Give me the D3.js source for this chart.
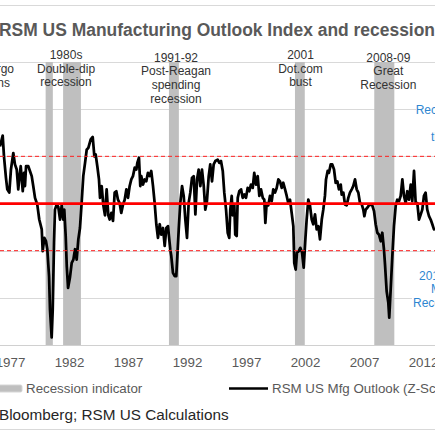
<!DOCTYPE html>
<html><head><meta charset="utf-8">
<script src="https://cdn.jsdelivr.net/npm/d3@7"></script>
<style>
body{margin:0;background:#fff;overflow:hidden}
svg{display:block}
text{font-family:"Liberation Sans",Arial,Helvetica,sans-serif}
</style>
</head><body>
<svg id="chart" width="435" height="435"></svg>
<script>
// ---- data ----
const titleText = "RSM US Manufacturing Outlook Index and recessions";
const sourceText = "Source: Bloomberg; RSM US Calculations";
const sourcePrefix = "Source: ";
const legendLabels = ["Recession indicator", "RSM US Mfg Outlook (Z-Score)"];

const years = [
1976.15,1976.38,1976.49,1976.66,1976.77,1976.94,1977.08,1977.28,1977.42,1977.57,1977.70,1977.79,1977.91,
1978.08,1978.19,1978.27,1978.36,1978.55,1978.69,1978.84,1978.97,1979.12,1979.31,1979.48,1979.69,1979.77,1979.91,
1980.05,1980.16,1980.31,1980.39,1980.53,1980.62,1980.73,1980.81,1980.96,1981.09,1981.24,1981.38,1981.52,1981.60,
1981.72,1981.81,1981.92,1982.08,1982.23,1982.37,1982.51,1982.65,1982.79,1982.93,1983.07,1983.21,1983.36,1983.50,
1983.64,1983.84,1984.01,1984.15,1984.26,1984.40,1984.54,1984.63,1984.77,1984.91,1985.05,1985.19,1985.33,
1985.45,1985.59,1985.73,1985.87,1986.01,1986.15,1986.29,1986.43,1986.58,1986.72,1986.86,1987.00,1987.14,1987.28,
1987.42,1987.57,1987.71,1987.79,1987.93,1988.04,1988.13,1988.27,1988.41,1988.55,1988.69,1988.84,1988.97,1989.12,
1989.26,1989.40,1989.54,1989.69,1989.82,1989.97,1990.11,1990.25,1990.39,1990.47,1990.58,1990.67,1990.81,1990.96,
1991.09,1991.18,1991.30,1991.43,1991.58,1991.72,1991.86,1992.00,1992.14,1992.28,1992.42,1992.57,1992.71,1992.85,
1992.99,1993.13,1993.27,1993.42,1993.55,1993.69,1993.84,1993.97,1994.12,1994.26,1994.40,
1994.60,1994.74,1994.88,1995.03,1995.16,1995.31,1995.45,1995.58,1995.67,1995.79,1995.87,1996.01,1996.09,1996.21,
1996.30,1996.43,1996.58,1996.72,1996.86,1997.00,1997.14,1997.28,1997.42,1997.57,1997.70,1997.85,1997.99,1998.13,
1998.27,1998.42,1998.55,1998.64,1998.75,1998.89,1999.03,1999.18,1999.31,1999.46,1999.60,1999.74,1999.88,2000.03,
2000.16,2000.31,2000.45,2000.58,2000.73,2000.87,2001.01,2001.09,2001.21,2001.32,2001.47,2001.60,2001.75,2001.89,
2002.03,2002.14,2002.28,2002.42,2002.57,2002.70,2002.85,2002.99,2003.13,2003.27,2003.42,2003.55,2003.69,
2003.78,2003.92,2004.03,2004.18,2004.31,2004.46,2004.60,2004.74,2004.88,2005.03,2005.11,2005.25,2005.39,2005.53,
2005.67,2005.81,2005.96,2006.09,2006.24,2006.38,2006.52,2006.66,2006.81,2006.94,2007.03,2007.14,2007.28,2007.42,
2007.57,2007.70,2007.85,2007.99,2008.13,2008.27,2008.42,2008.55,2008.69,2008.78,2008.92,2009.06,2009.14,2009.26,
2009.40,2009.54,2009.69,2009.82,2009.97,2010.11,2010.25,2010.39,2010.53,2010.67,2010.81,2010.96,2011.09,2011.24,
2011.38,2011.52,2011.66,2011.81,2011.94,2012.08,2012.22,2012.36,2012.51,2012.65,2012.79,2012.93,2013.02
];
const outlook = [
1.21,1.44,1.00,0.54,0.30,0.23,0.72,1.07,0.83,0.72,0.30,0.54,0.79,
0.26,0.65,0.37,0.79,0.79,0.69,0.58,0.37,0.12,-0.02,-0.34,-0.55,-1.01,-0.73,
-0.80,-0.97,-1.54,-2.25,-2.84,-2.25,-0.83,-0.13,-0.02,-0.07,-0.34,-0.04,-0.34,-0.13,
-0.69,-1.33,-1.79,-1.57,-1.26,-1.19,-0.97,-1.19,-0.76,-0.52,0.01,0.58,0.86,1.14,
1.18,1.36,1.41,1.00,1.04,0.79,0.51,0.12,0.37,-0.04,-0.25,0.30,-0.25,
-0.34,-0.20,-0.37,0.23,0.26,0.08,0.01,-0.20,-0.02,0.08,0.30,0.12,0.37,0.51,
0.58,0.76,0.72,0.86,0.97,0.37,0.58,0.40,0.51,0.47,0.65,0.58,0.69,0.37,
0.01,-0.44,-0.73,-0.44,-0.66,-0.52,-0.90,-0.52,-0.48,-0.69,-0.97,-1.12,-1.47,-1.54,
-1.54,-1.12,-0.55,0.01,0.37,0.16,-0.34,-0.73,0.01,0.23,0.54,0.58,-0.23,0.51,
0.72,0.37,0.72,0.37,-0.13,0.05,0.58,0.83,0.47,0.83,0.90,
0.93,0.86,0.90,0.69,0.23,-0.13,-0.62,-0.73,-0.13,0.16,-0.25,-0.04,-0.66,-0.69,
0.12,0.26,0.30,0.12,0.19,0.12,0.33,0.26,0.40,0.33,0.65,0.40,0.58,0.16,
0.30,0.12,0.08,-0.41,0.01,-0.04,0.16,0.05,0.30,0.23,0.33,0.51,0.47,0.33,
0.44,0.30,0.16,0.01,0.08,-0.20,-0.48,-1.26,-1.40,-1.04,-1.01,-0.94,-1.04,-1.36,
-0.76,-0.34,0.08,-0.04,-0.34,-0.44,-0.23,-0.55,-0.48,-0.76,-0.34,-0.13,0.16,
0.51,0.69,0.65,0.83,0.83,0.72,0.44,0.47,0.30,0.40,0.19,0.23,-0.02,-0.04,
0.12,0.23,0.30,0.37,0.51,0.30,0.23,0.01,-0.02,-0.13,-0.27,-0.13,-0.09,-0.04,
-0.02,-0.04,-0.16,-0.44,-0.62,-0.66,-0.80,-0.62,-0.97,-1.29,-1.86,-2.10,-2.42,-1.82,
-1.12,-0.48,-0.04,0.08,0.05,0.16,0.51,0.16,0.01,0.26,0.08,0.40,0.05,0.69,
0.01,0.01,-0.34,-0.23,-0.13,0.16,0.23,-0.13,-0.27,-0.34,-0.44,-0.55,-0.52
];
const recessionStart = [1980.02, 1981.50, 1990.47, 2001.15, 2007.87];
const recessionEnd   = [1980.63, 1983.01, 1991.31, 2001.98, 2009.57];
const yTicks = [-3, -2, -1, 0, 1, 2, 3];
const bandLevels = [-1, 1];
const zeroLevel = 0;
const xTickYears = [1977, 1982, 1987, 1992, 1997, 2002, 2007, 2012];
const xTickLabels = ["1977", "1982", "1987", "1992", "1997", "2002", "2007", "2012"];
const noteYears = [1974.57, 1981.75, 1991.07, 2001.62, 2009.06];
const noteLines = [
  ["1970s", "Oil embargo", "recessions"],
  ["1980s", "Double-dip", "recession"],
  ["1991-92", "Post-Reagan", "spending", "recession"],
  ["2001", "Dot.com", "bust"],
  ["2008-09", "Great", "Recession"]
];
const noteTop = [59.2, 59, 61.7, 59, 61.7];
const sideNoteYear = 2013.53;
const sideNotes = [
  ["Recovery", "in", "that"],
  ["2015-16", "Mfg", "Recession"]
];
const sideNoteTop = [114, 279.5];

// ---- scales ----
const svg = d3.select("#chart");
const x = d3.scaleLinear().domain([1982, 2012]).range([69, 423]);
const y = d3.scaleLinear().domain([-3, 3]).range([345, 62]);
const W = 435;

// frame lines
svg.append("line").attr("x1", 0).attr("x2", W).attr("y1", 5.5).attr("y2", 5.5)
  .attr("stroke", "#d9d9d9").attr("stroke-width", 1);
svg.append("line").attr("x1", 0).attr("x2", W).attr("y1", 429.5).attr("y2", 429.5)
  .attr("stroke", "#d9d9d9").attr("stroke-width", 1);

// title
svg.append("text").attr("x", -1).attr("y", 35.5)
  .attr("font-size", 17.45).attr("font-weight", "bold").attr("fill", "#595959")
  .text(titleText);

// gridlines
svg.append("g").selectAll("line").data(yTicks).join("line")
  .attr("x1", 0).attr("x2", W)
  .attr("y1", d => Math.round(y(d)) + 0.5).attr("y2", d => Math.round(y(d)) + 0.5)
  .attr("stroke", "#d9d9d9").attr("stroke-width", 1);

// recession bars
const recs = recessionStart.map((s, i) => ({s, e: recessionEnd[i]}));
svg.append("g").selectAll("rect").data(recs).join("rect")
  .attr("x", d => x(d.s)).attr("width", d => x(d.e) - x(d.s))
  .attr("y", y(3)).attr("height", y(-3) - y(3))
  .attr("fill", "#bfbfbf");

// x axis
const xAxis = d3.axisBottom(x).tickValues(xTickYears)
  .tickFormat((d, i) => xTickLabels[i]).tickSize(0).tickPadding(0);
const gx = svg.append("g").attr("transform", `translate(0,${y(-3)})`).call(xAxis);
gx.select(".domain").remove();
gx.selectAll("text").attr("dy", null).attr("y", 21.5)
  .attr("font-size", 13.33).attr("fill", "#595959")
  .attr("font-family", '"Liberation Sans",Arial,sans-serif');
svg.append("line").attr("x1", 0).attr("x2", W)
  .attr("y1", Math.round(y(-3)) + 0.5).attr("y2", Math.round(y(-3)) + 0.5)
  .attr("stroke", "#d0d0d0").attr("stroke-width", 1);

// series line
const pts = years.map((t, i) => [t, outlook[i]]);
svg.append("path").datum(pts)
  .attr("fill", "none").attr("stroke", "#000").attr("stroke-width", 2.75)
  .attr("stroke-linejoin", "round")
  .attr("d", d3.line().x(d => x(d[0])).y(d => y(d[1])));

// red reference lines
svg.append("g").selectAll("line").data(bandLevels).join("line")
  .attr("x1", 0).attr("x2", W).attr("y1", d => y(d)).attr("y2", d => y(d))
  .attr("stroke", "#ff2020").attr("stroke-width", 1).attr("stroke-dasharray", "4,3");
svg.append("line").attr("x1", 0).attr("x2", W)
  .attr("y1", y(zeroLevel)).attr("y2", y(zeroLevel))
  .attr("stroke", "#ff0000").attr("stroke-width", 2.75);

// recession annotations
const lh = 13.7;
noteLines.forEach((lines, i) => {
  const t = svg.append("text").attr("text-anchor", "middle")
    .attr("font-size", 12).attr("fill", "#333");
  lines.forEach((l, j) => {
    t.append("tspan").attr("x", x(noteYears[i])).attr("y", noteTop[i] + j * lh).text(l);
  });
});

// side notes (blue, white boxes)
sideNotes.forEach((lines, i) => {
  const cx = x(sideNoteYear);
  const top = sideNoteTop[i];
  svg.append("rect").attr("x", i === 0 ? 416 : 412).attr("y", top - 12)
    .attr("width", 40).attr("height", lines.length * lh + 2).attr("fill", "#fff");
  const t = svg.append("text").attr("text-anchor", "middle")
    .attr("font-size", 12).attr("fill", "#2e86d1");
  lines.forEach((l, j) => {
    t.append("tspan").attr("x", cx).attr("y", top + j * lh).text(l);
  });
});

// legend
svg.append("rect").attr("x", -10).attr("y", 385).attr("width", 32).attr("height", 7)
  .attr("rx", 1.5).attr("fill", "#bfbfbf").attr("stroke", "#d6d6d6").attr("stroke-width", 1);
svg.append("text").attr("x", 26).attr("y", 393).attr("font-size", 13.33)
  .attr("fill", "#595959").text(legendLabels[0]);
svg.append("line").attr("x1", 229).attr("x2", 268).attr("y1", 388.5).attr("y2", 388.5)
  .attr("stroke", "#000").attr("stroke-width", 2.5);
svg.append("text").attr("x", 272).attr("y", 393).attr("font-size", 13.33)
  .attr("fill", "#595959").text(legendLabels[1]);

// source
const probe = svg.append("text").attr("font-size", 15.3).text(sourcePrefix.replace(/ $/, "\u00a0"));
const pw = probe.node().getComputedTextLength();
probe.remove();
svg.append("text").attr("x", -1 - pw).attr("y", 420).attr("font-size", 15.3)
  .attr("fill", "#262626").attr("xml:space", "preserve").text(sourceText);
</script>
</body></html>
